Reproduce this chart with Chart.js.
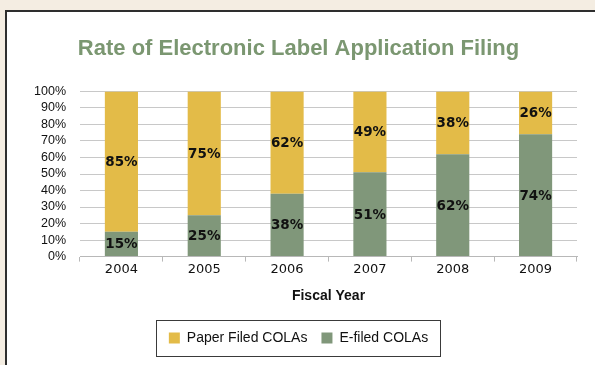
<!DOCTYPE html>
<html>
<head>
<meta charset="utf-8">
<script src="https://cdn.jsdelivr.net/npm/chart.js@4.4.1/dist/chart.umd.min.js"></script>
<style>
  html, body { margin: 0; padding: 0; }
  body { width: 595px; height: 365px; background: #f4ede2; position: relative; overflow: hidden; }
  #panel { position: absolute; left: 5px; top: 10px; width: 640px; height: 400px;
           background: #ffffff; border-left: 2px solid #2e2e2e; border-top: 2px solid #2e2e2e; }
  #wrap { position: absolute; left: 0; top: 0; width: 595px; height: 365px; }
</style>
</head>
<body>
<div id="panel"></div>
<div id="wrap"><canvas id="chart" width="595" height="365"></canvas></div>
<script>
// Share of label applications by filing method, per fiscal year (percent)
const years = ['2004', '2005', '2006', '2007', '2008', '2009'];
const eFiled = [15, 25, 38, 51, 62, 74];
const paperFiled = [85, 75, 62, 49, 38, 26];
const yTicks = [0, 10, 20, 30, 40, 50, 60, 70, 80, 90, 100];

const GREEN = '#80977a';
const GOLD = '#e3bb48';

// Writes each segment's percentage in the middle of its bar
const segmentLabels = {
  id: 'segmentLabels',
  afterDatasetsDraw(chart) {
    const ctx = chart.ctx;
    ctx.save();
    ctx.font = 'bold 13.5px "DejaVu Sans"';
    ctx.fillStyle = '#111111';
    ctx.textAlign = 'center';
    ctx.textBaseline = 'middle';
    chart.data.datasets.forEach((ds, di) => {
      const meta = chart.getDatasetMeta(di);
      meta.data.forEach((bar, i) => {
        const y = (bar.y + bar.base) / 2;
        ctx.fillText(ds.data[i] + '%', bar.x, y + 1);
      });
    });
    ctx.restore();
  }
};

// Outlined frame around the legend entries
const legendFrame = {
  id: 'legendFrame',
  afterDraw(chart) {
    const boxes = chart.legend && chart.legend.legendHitBoxes;
    if (!boxes || !boxes.length) return;
    let l = Infinity, r = -Infinity, mid = 0;
    boxes.forEach(b => {
      l = Math.min(l, b.left);
      r = Math.max(r, b.left + b.width);
      mid = b.top + b.height / 2;
    });
    const ctx = chart.ctx;
    ctx.save();
    ctx.strokeStyle = '#3a3a3a';
    ctx.lineWidth = 1;
    ctx.strokeRect(Math.round(l - 13) + 0.5, Math.round(mid - 18) + 0.5,
                   Math.round(r - l + 25), 36);
    ctx.restore();
  }
};

new Chart(document.getElementById('chart'), {
  type: 'bar',
  data: {
    labels: years,
    datasets: [
      { label: 'E-filed COLAs', data: eFiled, backgroundColor: GREEN, borderWidth: 0,
        categoryPercentage: 0.8, barPercentage: 0.5 },
      { label: 'Paper Filed COLAs', data: paperFiled, backgroundColor: GOLD, borderWidth: 0,
        categoryPercentage: 0.8, barPercentage: 0.5 }
    ]
  },
  options: {
    responsive: false,
    animation: false,
    devicePixelRatio: 1,
    layout: { padding: { left: 20, right: 18, top: 24, bottom: 10 } },
    plugins: {
      title: {
        display: true,
        text: 'Rate of Electronic Label Application Filing',
        color: '#7b9771',
        font: { family: '"Liberation Sans"', size: 22, weight: 'bold', lineHeight: 1.2 },
        padding: { top: 12, bottom: 29 }
      },
      legend: {
        position: 'bottom',
        reverse: true,
        labels: {
          boxWidth: 11, boxHeight: 11, padding: 14, color: '#111111',
          font: { family: '"Liberation Sans"', size: 14 }
        }
      },
      tooltip: { enabled: false }
    },
    scales: {
      x: {
        stacked: true,
        grid: { display: true, drawOnChartArea: false, drawTicks: true, tickLength: 5,
                color: '#b8b8b8', offset: true },
        border: { display: true, color: '#b8b8b8', width: 1 },
        ticks: { padding: 0, color: '#111111', font: { family: '"DejaVu Sans"', size: 13 } },
        title: { display: true, text: 'Fiscal Year', color: '#111111',
                 font: { family: '"Liberation Sans"', size: 14, weight: 'bold' },
                 padding: { top: 11, bottom: 12 } }
      },
      y: {
        stacked: true,
        min: 0, max: 100,
        afterFit(scale) { scale.width = 60; },
        afterBuildTicks(scale) { scale.ticks = yTicks.map(v => ({ value: v })); },
        grid: { color: '#c8c8c8', drawTicks: false },
        border: { display: false },
        ticks: { padding: 14, color: '#111111', autoSkip: false,
                 font: { family: '"Liberation Sans"', size: 12.5 },
                 callback: v => v + '%' }
      }
    }
  },
  plugins: [segmentLabels, legendFrame]
});
</script>
</body>
</html>
